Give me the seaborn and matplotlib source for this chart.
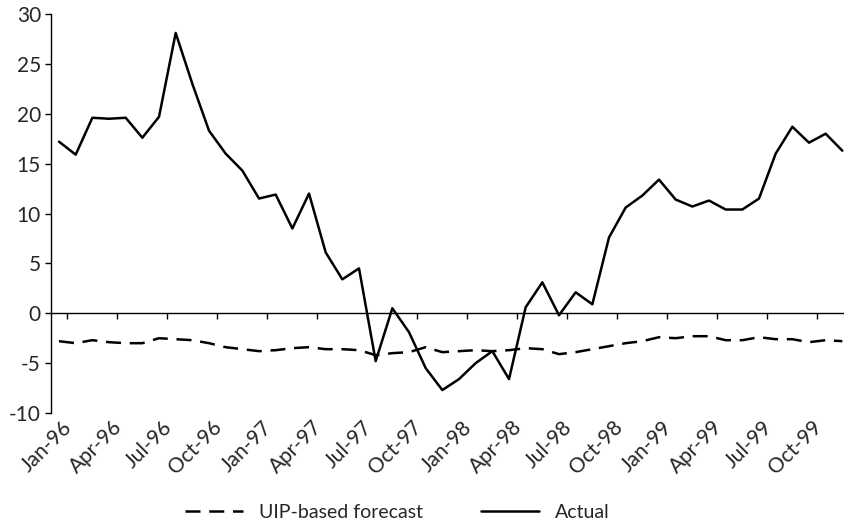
import numpy as np
import pandas as pd
import matplotlib
matplotlib.use("Agg")
import matplotlib.pyplot as plt
import matplotlib.transforms as mtransforms
import seaborn as sns

months = [f"{m}-{y}" for y in ["96", "97", "98", "99"]
          for m in ["Jan", "Feb", "Mar", "Apr", "May", "Jun",
                    "Jul", "Aug", "Sep", "Oct", "Nov", "Dec"]]

actual = [17.2, 15.9, 19.6, 19.5, 19.6, 17.6, 19.7, 28.1, 23.0, 18.3, 16.0, 14.3,
          11.5, 11.9, 8.5, 12.0, 6.1, 3.4, 4.5, -4.8, 0.5, -1.9, -5.5, -7.7,
          -6.6, -5.0, -3.8, -6.6, 0.6, 3.1, -0.2, 2.1, 0.9, 7.6, 10.6, 11.8,
          13.4, 11.4, 10.7, 11.3, 10.4, 10.4, 11.5, 16.0, 18.7, 17.1, 18.0, 16.3]

uip = [-2.8, -3.0, -2.7, -2.9, -3.0, -3.0, -2.5, -2.6, -2.7, -3.0, -3.4, -3.6,
       -3.8, -3.7, -3.5, -3.4, -3.6, -3.6, -3.7, -4.2, -4.0, -3.9, -3.4, -3.9,
       -3.8, -3.7, -3.8, -3.7, -3.5, -3.6, -4.1, -3.9, -3.6, -3.3, -3.0, -2.8,
       -2.4, -2.5, -2.3, -2.3, -2.7, -2.7, -2.4, -2.6, -2.6, -2.9, -2.7, -2.8]

y_ticks = [-10, -5, 0, 5, 10, 15, 20, 25, 30]

df = pd.DataFrame({"idx": np.arange(len(months)), "month": months,
                   "actual": actual, "uip": uip})

sns.set_style("white")
plt.rcParams["font.family"] = ["Lato", "DejaVu Sans"]
plt.rcParams["axes.unicode_minus"] = False

fig = plt.figure(figsize=(8.45, 5.27), dpi=100)
ax = fig.add_axes([0.06, 0.2163, 0.9467, 0.7571])

sns.lineplot(data=df, x="idx", y="uip", ax=ax, color="black", lw=1.8,
             linestyle=(0, (6, 3.5)), label="UIP-based forecast")
sns.lineplot(data=df, x="idx", y="actual", ax=ax, color="black", lw=1.8,
             label="Actual")

ax.set_xlim(-0.5, len(months) - 0.5)
ax.set_ylim(-10, 30)
ax.set_xlabel("")
ax.set_ylabel("")

for s in ["top", "right", "bottom"]:
    ax.spines[s].set_visible(False)
ax.spines["left"].set_color("black")
ax.spines["left"].set_linewidth(1.0)

ax.set_yticks(y_ticks)
ax.set_yticklabels([str(v) for v in y_ticks], fontsize=15)
ax.tick_params(axis="y", direction="out", length=4, width=1.0, color="black",
               pad=3, left=True)

# category labels every 3 months, rotated
lab_idx = list(range(0, len(months), 3))
ax.set_xticks(lab_idx)
ax.set_xticklabels([months[i] for i in lab_idx], fontsize=15, rotation=45,
                   ha="right", va="top", rotation_mode="anchor")
ax.tick_params(axis="x", length=0, pad=3)
offset = mtransforms.ScaledTranslation(0.03, 0, fig.dpi_scale_trans)
for lab in ax.get_xticklabels():
    lab.set_transform(lab.get_transform() + offset)

# zero line with tick marks between categories
zero = ax.secondary_xaxis(0.25)
zero.set_xticks(np.arange(0.5, len(months) - 0.5, 3))
zero.set_xticklabels([])
zero.tick_params(direction="out", length=4, width=1.0, color="black")
zero.spines["bottom"].set_color("black")
zero.spines["bottom"].set_linewidth(1.0)

handles, labels = ax.get_legend_handles_labels()
ax.get_legend().remove()
fig.legend(handles, labels, loc="center", bbox_to_anchor=(0.47, 0.027),
           ncol=2, frameon=False, fontsize=14, handlelength=3.0,
           columnspacing=3.0, handletextpad=0.8)

fig.savefig("out.png", dpi=100)
